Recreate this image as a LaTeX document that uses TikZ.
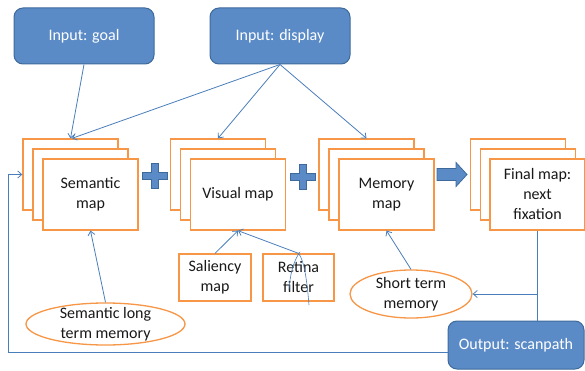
\documentclass[tikz,border=0pt]{standalone}
\usepackage{fontspec}
\setmainfont{Carlito}
\usetikzlibrary{arrows.meta,shapes.geometric}
\definecolor{boxblue}{RGB}{91,139,199}
\definecolor{boxedge}{RGB}{62,106,155}
\definecolor{linkblue}{RGB}{74,126,187}
\definecolor{mapedge}{RGB}{247,150,70}
\definecolor{txt}{RGB}{25,25,25}
\begin{document}
\begin{tikzpicture}[x=1pt,y=1pt,
  labelfont/.style={font=\fontsize{16}{20}\selectfont},
  bluebox/.style={draw=boxedge,fill=boxblue,rounded corners=9pt,line width=1pt,text=white,
    minimum width=140pt,minimum height=56pt,inner sep=0pt,labelfont},
  mapframe/.style={draw=mapedge,fill=white,line width=1.3pt,minimum width=95pt,
    minimum height=71pt,inner sep=0pt,align=center,labelfont,text=txt},
  smallbox/.style={draw=mapedge,fill=white,line width=1.3pt,minimum width=72pt,
    minimum height=47pt,inner sep=0pt,align=center,labelfont,text=txt},
  memell/.style={ellipse,draw=mapedge,line width=1.3pt,fill=white,inner sep=0pt},
  memtext/.style={align=center,labelfont,text=txt,inner sep=0pt},
  link/.style={draw=linkblue,line width=0.8pt},
  linkarrow/.style={link,-{Straight Barb[length=4pt,width=7pt]}},
  bigshape/.style={draw=boxedge,fill=boxblue,line width=0.8pt}
]
\useasboundingbox (0,0) rectangle (585,370);

% input boxes
\node[bluebox] (goal) at (84,334) {Input: goal};
\node[bluebox] (display) at (280,334) {Input: display};

% semantic stack
\node[mapframe] (semA) at (70.5,195.5) {};
\node[mapframe] (semB) at (80.5,185.5) {};
\node[mapframe] (semC) at (90.5,175.5) {Semantic\\map};

% visual stack
\node[mapframe] (visA) at (218,195.5) {};
\node[mapframe] (visB) at (228,185.5) {};
\node[mapframe] (visC) at (238,175.5) {Visual map};

% memory stack
\node[mapframe] (memA) at (366.5,195.5) {};
\node[mapframe] (memB) at (376.5,185.5) {};
\node[mapframe] (memC) at (386.5,175.5) {Memory\\map};

% final stack
\node[mapframe] (finA) at (518,195.5) {};
\node[mapframe] (finB) at (528,185.5) {};
\node[mapframe] (finC) at (537.5,175.5) {Final map:\\next\\fixation};

% small boxes
\node[smallbox] (sal) at (215,92.5) {Saliency\\map};
\node[smallbox,minimum width=71pt] (ret) at (298.5,92.5) {Retina\\filter};

% memories
\node[memell,minimum width=159pt,minimum height=42pt] (ltm) at (105.5,46) {};
\node[memtext] (ltmtext) at (ltm.center) {Semantic long\\term memory};
\node[memell,minimum width=122pt,minimum height=48pt] (stm) at (411,76) {};
\node[memtext] (stmtext) at (stm.center) {Short term\\memory};

% output
\node[bluebox,minimum width=136pt,minimum height=48pt] (out) at (516,25) {Output: scanpath};

% plus signs
\foreach \cx/\cy in {155/194.5, 302.5/193.5}{
  \filldraw[bigshape] (\cx-3.5,\cy-12.5) -- (\cx+3.5,\cy-12.5) -- (\cx+3.5,\cy-3.5) --
    (\cx+12.5,\cy-3.5) -- (\cx+12.5,\cy+3.5) -- (\cx+3.5,\cy+3.5) -- (\cx+3.5,\cy+12.5) --
    (\cx-3.5,\cy+12.5) -- (\cx-3.5,\cy+3.5) -- (\cx-12.5,\cy+3.5) -- (\cx-12.5,\cy-3.5) --
    (\cx-3.5,\cy-3.5) -- cycle;
}

% block arrow
\filldraw[bigshape] (437,189.5) -- (456,189.5) -- (456,183.5) -- (467,195.5) --
  (456,207.5) -- (456,201.5) -- (437,201.5) -- cycle;

% connectors from inputs
\draw[linkarrow] (goal.south) -- (semA.north);
\draw[linkarrow] (display.south) -- ([xshift=1.5pt]semA.north);
\draw[linkarrow] (display.south) -- (visA.north);
\draw[linkarrow] (display.south) -- (memA.north);

% into visual map
\draw[linkarrow] (sal.north) -- (visC.south);
\draw[linkarrow] (ret.north) -- (visC.south);
\coordinate (curlA) at (289,80);
\coordinate (curlB) at (309,65);
\draw[link,line width=0.6pt] (curlA) .. controls (291,112) and (303,120) .. (ret.north)
  .. controls (304,110) and (307,90) .. (curlB);

% memories into maps
\draw[linkarrow] (ltm.north) -- (semC.south);
\draw[linkarrow] (stm.north) -- (memC.south);

% final map to output and short term memory
\coordinate (branch) at (finC.south |- stm.east);
\draw[link] (finC.south) -- (finC.south |- out.north);
\draw[linkarrow] (branch) -- (stm.east);

% feedback loop
\coordinate (fbA) at (out.west |- 0,18);
\coordinate (fbB) at (8,18);
\coordinate (fbC) at (8,195.5);
\draw[linkarrow] (fbA) -- (fbB) -- (fbC) -- (semA.west);
\end{tikzpicture}
\end{document}
